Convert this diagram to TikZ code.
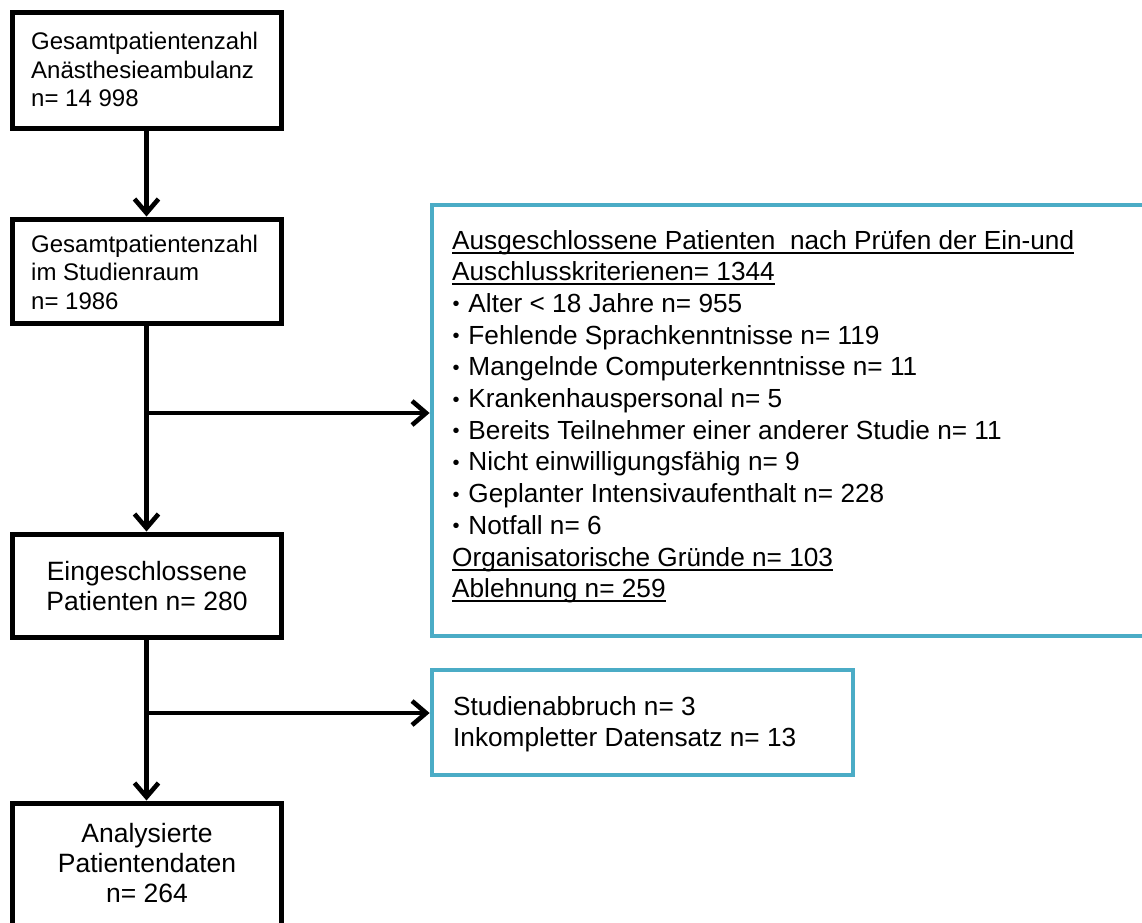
\documentclass[tikz,border=0pt]{standalone}
\usepackage{fontspec}
\setmainfont{Liberation Sans}
\usetikzlibrary{arrows.meta}
\definecolor{accent}{HTML}{4BACC6}
\newcommand\myul[1]{\setbox0\hbox{#1}\rlap{\rule[-4.5pt]{\wd0}{2pt}}\box0}
\newcommand\bul{\makebox[9pt][l]{\hspace{0.5pt}\raisebox{1.5pt}{\fontsize{20}{20}\selectfont •}}}
\newcommand\linesL[1]{\begin{tabular}[t]{@{}l@{}}#1\end{tabular}}
\newcommand\linesC[1]{\begin{tabular}[t]{@{}c@{}}#1\end{tabular}}
\begin{document}
\begin{tikzpicture}[x=1pt,y=-1pt,
  blackbox/.style={draw=black, line width=5pt, minimum width=269pt, inner sep=0pt},
  bluebox/.style={draw=accent, line width=4.8pt, inner sep=0pt},
  txt/.style={inner sep=0pt},
  smallfont/.style={font={\fontsize{24}{28.7}\selectfont}},
  midfont/.style={font={\fontsize{26.5}{30}\selectfont}},
  bluefont/.style={font={\fontsize{26.2}{31.7}\selectfont}},
  arr/.style={line width=4.6pt, -{Straight Barb[length=14pt,width=24pt]}}
]
\useasboundingbox (0,0) rectangle (1142,922);
\clip (0,0) rectangle (1142,922);
\fill[white] (0,0) rectangle (1142,922);
% boxes
\node[blackbox, minimum height=116pt] (b1) at (146.5,70) {};
\node[blackbox, minimum height=104pt] (b2) at (146.5,271) {};
\node[blackbox, minimum height=103pt] (b3) at (146.5,585.5) {};
\node[blackbox, minimum height=140pt] (b4) at (146.5,873) {};
\node[bluebox, minimum width=728pt, minimum height=431pt] (e1) at (796,420.5) {};
\node[bluebox, minimum width=421pt, minimum height=105pt] (e2) at (642.5,722.5) {};
% texts
\node[txt, smallfont, anchor=base west] (t1) at (31,49.5)
  {\linesL{Gesamtpatientenzahl\\Anästhesieambulanz\\n= 14 998}};
\node[txt, smallfont, anchor=base west] (t2) at (31,252)
  {\linesL{Gesamtpatientenzahl\\im Studienraum\\n= 1986}};
\node[txt, midfont, anchor=base] (t3) at (147,580)
  {\linesC{Eingeschlossene\\Patienten n= 280}};
\node[txt, midfont, anchor=base] (t4) at (147,842)
  {\linesC{Analysierte\\Patientendaten\\n= 264}};
\node[txt, bluefont, anchor=base west] (t5) at (452,249)
  {\linesL{\myul{Ausgeschlossene Patienten\hspace{0.28em} nach Prüfen der Ein-und}\\
  \myul{Auschlusskriterienen= 1344}\\
  \bul{} Alter < 18 Jahre n= 955\\
  \bul{} Fehlende Sprachkenntnisse n= 119\\
  \bul{} Mangelnde Computerkenntnisse n= 11\\
  \bul{} Krankenhauspersonal n= 5\\
  \bul{} Bereits Teilnehmer einer anderer Studie n= 11\\
  \bul{} Nicht einwilligungsfähig n= 9\\
  \bul{} Geplanter Intensivaufenthalt n= 228\\
  \bul{} Notfall n= 6\\
  \myul{Organisatorische Gründe n= 103}\\
  \myul{Ablehnung n= 259}}};
\node[txt, bluefont, anchor=base west] (t6) at (453,715)
  {\linesL{Studienabbruch n= 3\\Inkompletter Datensatz n= 13}};
% connectors
\coordinate (y1) at (0,413);
\coordinate (y2) at (0,713);
\draw[arr] (b1) -- (b2);
\draw[arr] (b2) -- (b3);
\draw[arr] (b3) -- (b4);
\draw[arr] (b2.south |- y1) -- (e1.west |- y1);
\draw[arr] (b3.south |- y2) -- (e2.west |- y2);
\end{tikzpicture}
\end{document}
